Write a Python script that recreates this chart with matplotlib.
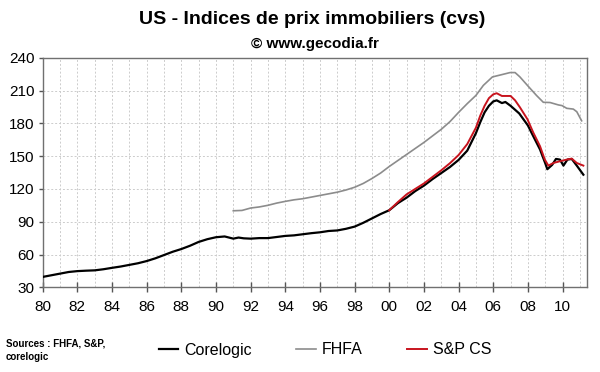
import matplotlib
matplotlib.use("Agg")
import matplotlib.pyplot as plt

plt.rcParams['font.family'] = ['Liberation Sans', 'DejaVu Sans']

# Corelogic index (years)
core_x = [1980.0, 1980.5, 1981.0, 1981.5, 1982.0, 1982.5, 1983.0, 1983.5, 1984.0, 1984.5,
          1985.0, 1985.5, 1986.0, 1986.5, 1987.0, 1987.5, 1988.0, 1988.5, 1989.0, 1989.5,
          1990.0, 1990.5, 1991.0, 1991.3, 1991.6, 1992.0, 1992.5, 1993.0, 1993.5, 1994.0,
          1994.5, 1995.0, 1995.5, 1996.0, 1996.5, 1997.0, 1997.5, 1998.0, 1998.5, 1999.0,
          1999.5, 2000.0, 2000.5, 2001.0, 2001.5, 2002.0, 2002.5, 2003.0, 2003.5, 2004.0,
          2004.5, 2005.0, 2005.25, 2005.5, 2005.75, 2006.0, 2006.2, 2006.5, 2006.7, 2007.0,
          2007.5, 2008.0, 2008.3, 2008.7, 2009.0, 2009.12, 2009.4, 2009.62, 2009.85, 2010.05,
          2010.28, 2010.53, 2010.82, 2011.2]
core_y = [39.5, 41, 42.5, 44, 44.8, 45.2, 45.5, 46.5, 47.8, 49,
          50.5, 52, 54, 56.5, 59.5, 62.5, 65, 68, 71.5, 74,
          75.8, 76.5, 74.5, 75.5, 74.8, 74.5, 75, 75, 76, 77,
          77.5, 78.5, 79.5, 80.3, 81.5, 82, 83.5, 85.5, 89, 93,
          97, 100.5, 107, 112, 118, 123, 129, 134.5, 140, 146.5,
          155, 171, 181, 190, 196, 200, 201, 198.5, 199.5, 196,
          189, 178, 168.5, 156, 143.5, 138, 142, 147.4, 146.8, 141.3,
          146.8, 147.4, 141.3, 133]

# FHFA index
fhfa_x = [1991.0, 1991.5, 1992.0, 1992.5, 1993.0, 1993.5, 1994.0, 1994.5, 1995.0, 1995.5,
          1996.0, 1996.5, 1997.0, 1997.5, 1998.0, 1998.5, 1999.0, 1999.5, 2000.0, 2000.5,
          2001.0, 2001.5, 2002.0, 2002.5, 2003.0, 2003.5, 2004.0, 2004.5, 2005.0, 2005.43,
          2005.95, 2006.49, 2006.97, 2007.26, 2007.54, 2007.97, 2008.5, 2008.89, 2009.28, 2009.76,
          2009.97, 2010.24, 2010.62, 2010.82, 2011.1]
fhfa_y = [100, 100.3, 102.5, 103.5, 105, 107, 108.6, 110, 111, 112.5,
          114, 115.5, 117, 119, 121.5, 125, 129.5, 134.5, 140.5, 146,
          151.5, 157, 162.5, 168.5, 174.5, 181.5, 190, 198, 205.5, 214.7,
          222.4, 224.5, 226.4, 226.4, 222.4, 214.7, 205.4, 199.2, 199, 196.8,
          196.2, 193.7, 193, 190.6, 182.3]

# S&P Case-Shiller
cs_x = [2000.0, 2000.5, 2001.0, 2001.5, 2002.0, 2002.5, 2003.0, 2003.5, 2004.0, 2004.5,
        2005.0, 2005.25, 2005.5, 2005.75, 2006.0, 2006.2, 2006.5, 2007.0, 2007.26, 2007.54,
        2007.97, 2008.31, 2008.7, 2008.97, 2009.18, 2009.47, 2009.85, 2010.24, 2010.53, 2010.82,
        2011.2]
cs_y = [100.5, 108, 115, 120, 125, 131, 137, 143.5, 151, 161,
        176, 187, 196, 203, 206.5, 207.5, 205, 205, 201, 194.6,
        183.8, 171.5, 159, 147, 141.3, 143.7, 145.3, 146.8, 147.7, 143.7,
        141.3]

year_ticks = list(range(1980, 2011, 2))
year_labels = ["%02d" % (y % 100) for y in year_ticks]
y_ticks = [30, 60, 90, 120, 150, 180, 210, 240]

fig = plt.figure(figsize=(6, 3.72), dpi=100)
ax = fig.add_axes([42.7 / 600, 1 - 287.3 / 372, (587 - 42.7) / 600, (287.3 - 57.7) / 372])

ax.plot(core_x, core_y, color="black", lw=1.6, label="Corelogic", zorder=3)
ax.plot(fhfa_x, fhfa_y, color="#8c8c8c", lw=1.2, label="FHFA", zorder=2)
ax.plot(cs_x, cs_y, color="#c8141e", lw=1.4, label="S&P CS", zorder=4)

ax.set_xlim(1980, 2011.41)
ax.set_ylim(30, 240)
ax.set_xticks(year_ticks)
ax.set_xticklabels(year_labels)
ax.set_xticks(range(1981, 2012), minor=True)
ax.set_yticks(y_ticks)

ax.grid(True, which="both", axis="x", color="#cccccc", ls=(0, (2, 2)), lw=0.7)
ax.grid(True, which="major", axis="y", color="#cccccc", ls=(0, (2, 2)), lw=0.7)
ax.tick_params(axis="x", which="major", direction="inout", length=7, width=1, color="#555555",
               labelsize=11, pad=6)
ax.tick_params(axis="x", which="minor", length=0)
ax.tick_params(axis="y", direction="out", length=3, width=1, color="#555555", labelsize=11, pad=3)
for s in ax.spines.values():
    s.set_color("#707070")
    s.set_linewidth(1)

fig.text(312 / 600, 1 - 20 / 372, "US - Indices de prix immobiliers (cvs)", ha="center", va="center",
         fontsize=14, fontweight="bold")
fig.text(315 / 600, 1 - 44 / 372, "\u00a9 www.gecodia.fr", ha="center", va="center",
         fontsize=11, fontweight="bold")
fig.text(6 / 600, 1 - 350 / 372, "Sources : FHFA, S&P,\ncorelogic", ha="left", va="center",
         fontsize=7, fontweight="bold", linespacing=1.4)

fig.legend(loc="center", bbox_to_anchor=(325 / 600, 1 - 350 / 372), ncol=3, frameon=False,
           fontsize=11.5, handlelength=1.2, handletextpad=0.4, columnspacing=2.8)

fig.savefig("out.png", dpi=100)
